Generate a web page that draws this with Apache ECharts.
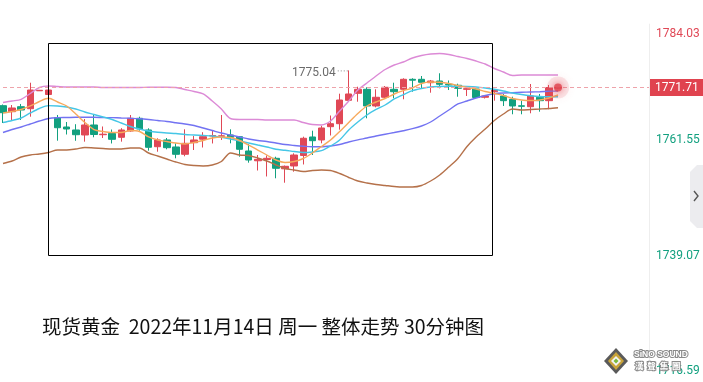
<!DOCTYPE html>
<html><head><meta charset="utf-8">
<script src="https://cdn.jsdelivr.net/npm/echarts@6/dist/echarts.min.js"></script>
<style>html,body{margin:0;padding:0;background:#fff}#c{width:703px;height:382px}</style>
</head><body><div id="c"></div>
<script>
// ---- data (30-minute bars) ----
const categories = ['1','2','3','4','5','6','7','8','9','10','11','12','13','14','15','16','17','18','19','20',
  '21','22','23','24','25','26','27','28','29','30','31','32','33','34','35','36','37','38','39','40',
  '41','42','43','44','45','46','47','48','49','50','51','52','53','54','55','56','57','58','59','60','61','62'];
const openV = [1768.19,1767.02,1767.99,1767.60,1771.08,1770.36,1765.89,1764.05,1763.47,1762.50,
  1764.44,1762.55,1762.79,1762.05,1763.27,1765.74,1763.47,1760.22,1761.53,1760.17,
  1758.75,1761.00,1761.68,1762.30,1762.24,1762.50,1762.17,1759.39,1757.49,1757.74,
  1757.97,1755.93,1756.48,1758.52,1762.11,1761.53,1764.11,1764.69,1769.23,1770.59,
  1771.37,1768.13,1769.82,1771.37,1771.37,1773.31,1773.31,1772.65,1772.98,1772.34,
  1772.15,1771.37,1771.43,1769.82,1770.90,1770.07,1769.43,1768.17,1767.99,1769.82,
  1769.16,1771.60];
const closeV = [1766.83,1767.74,1767.35,1771.23,1771.18,1771.23,1763.91,1763.66,1762.55,1764.44,
  1762.59,1762.65,1761.66,1763.47,1765.74,1763.66,1760.11,1761.53,1760.03,1758.75,
  1760.88,1761.53,1762.17,1762.40,1762.34,1762.05,1759.72,1757.64,1757.78,1757.97,
  1756.03,1756.42,1758.61,1761.86,1761.39,1763.86,1764.69,1769.29,1770.46,1771.37,
  1768.13,1769.82,1771.76,1770.90,1773.31,1773.14,1772.73,1772.98,1772.34,1772.21,
  1771.56,1771.49,1769.78,1770.07,1771.23,1769.16,1768.13,1768.07,1770.07,1769.16,
  1771.71,1771.71];
const lowV = [1764.83,1765.27,1765.41,1766.05,1771.04,1770.32,1761.39,1762.59,1761.37,1761.20,
  1762.05,1761.91,1760.85,1761.20,1763.14,1763.33,1759.45,1759.25,1759.72,1757.97,
  1758.36,1759.58,1760.07,1760.85,1761.53,1760.88,1758.28,1757.12,1755.60,1754.44,
  1754.09,1753.23,1755.37,1756.77,1758.61,1760.88,1762.40,1763.53,1768.96,1768.96,
  1765.74,1767.87,1769.62,1769.62,1769.43,1770.90,1771.56,1770.71,1771.56,1771.23,
  1769.93,1770.07,1769.68,1769.58,1769.16,1768.13,1766.52,1766.52,1766.71,1767.02,
  1767.49,1771.50];
const highV = [1768.42,1768.32,1768.52,1772.65,1771.23,1771.27,1766.38,1765.02,1764.59,1765.60,
  1766.38,1764.15,1763.56,1763.82,1766.38,1766.05,1763.80,1761.86,1761.91,1760.88,
  1763.60,1762.30,1763.04,1763.47,1766.38,1763.60,1762.30,1760.75,1758.61,1758.52,
  1758.28,1756.57,1758.94,1762.17,1763.33,1764.28,1766.28,1770.52,1775.04,1771.87,
  1771.76,1771.37,1772.01,1772.65,1773.51,1773.51,1773.95,1773.18,1774.48,1773.08,
  1772.46,1772.01,1771.53,1770.26,1771.37,1770.46,1769.93,1769.16,1772.40,1770.46,
  1772.21,1771.80];
const maOrange = [1766.77,1767.06,1767.45,1768.13,1769.00,1769.62,1768.90,1768.13,1766.57,1764.92,
  1763.56,1763.18,1762.98,1762.98,1763.37,1763.18,1762.11,1761.53,1761.23,1760.94,
  1760.75,1761.04,1761.43,1761.91,1762.11,1762.01,1761.43,1760.55,1759.58,1758.61,
  1757.64,1757.16,1757.35,1757.93,1759.00,1760.26,1761.53,1763.18,1764.92,1766.67,
  1768.13,1768.90,1769.58,1770.46,1771.10,1771.62,1772.50,1772.79,1772.73,1772.50,
  1772.11,1771.72,1771.43,1770.94,1770.55,1770.17,1769.58,1769.29,1769.19,1769.29,
  1769.68,1770.26];
const maCyan = [1764.92,1765.31,1765.80,1766.77,1767.64,1768.19,1768.13,1767.93,1767.54,1766.96,
  1766.48,1765.99,1765.51,1764.83,1764.15,1763.66,1763.27,1763.02,1762.88,1762.79,
  1762.59,1762.50,1762.40,1762.30,1762.05,1761.72,1761.33,1760.94,1760.55,1760.17,
  1759.72,1759.53,1759.29,1759.10,1759.20,1759.45,1760.36,1761.53,1763.47,1765.02,
  1766.38,1767.45,1768.32,1769.49,1770.32,1771.10,1771.53,1771.82,1771.91,1771.95,
  1771.95,1771.91,1771.82,1771.62,1771.37,1771.04,1770.65,1770.36,1770.13,1769.97,
  1769.93,1769.93];
const maBlue = [1762.98,1763.56,1764.05,1764.63,1765.21,1765.70,1765.86,1765.89,1765.93,1765.93,
  1765.93,1765.89,1765.86,1765.80,1765.74,1765.66,1765.51,1765.31,1765.12,1764.88,
  1764.63,1764.34,1763.86,1763.37,1762.88,1762.50,1762.11,1761.72,1761.43,1761.23,
  1760.94,1760.65,1760.46,1760.30,1760.20,1760.20,1760.36,1760.65,1761.14,1761.56,
  1761.91,1762.30,1762.65,1762.98,1763.33,1763.72,1764.24,1765.02,1766.19,1767.35,
  1768.52,1769.10,1769.68,1770.17,1770.50,1770.65,1770.71,1770.79,1770.85,1770.90,
  1770.98,1771.04];
const bollUpper = [1768.81,1769.10,1769.43,1770.55,1771.72,1772.01,1771.91,1771.82,1771.82,1771.82,
  1771.82,1771.72,1771.72,1771.72,1771.72,1771.72,1771.76,1771.76,1771.76,1771.72,
  1771.33,1770.94,1770.46,1769.10,1767.54,1765.70,1765.51,1765.51,1765.51,1765.41,
  1765.41,1765.41,1765.41,1764.92,1764.53,1764.44,1765.21,1767.16,1769.10,1771.23,
  1772.59,1773.95,1775.21,1776.09,1776.67,1777.45,1777.93,1778.22,1778.32,1778.13,
  1777.74,1777.35,1776.87,1776.28,1775.41,1774.73,1774.05,1774.15,1774.15,1774.15,
  1774.15,1774.15];
const bollLower = [1756.96,1757.45,1758.22,1758.61,1758.81,1759.10,1759.58,1759.58,1759.78,1760.07,
  1759.97,1759.87,1759.78,1759.78,1759.97,1759.97,1759.00,1758.42,1757.84,1757.25,
  1756.77,1756.57,1756.48,1756.67,1757.35,1759.00,1758.61,1758.52,1758.03,1757.45,
  1756.67,1755.99,1755.70,1755.41,1755.60,1755.70,1755.60,1755.02,1754.24,1753.56,
  1753.17,1752.88,1752.69,1752.50,1752.40,1752.40,1752.69,1753.56,1754.73,1756.28,
  1757.93,1760.26,1762.11,1763.66,1765.31,1766.57,1767.54,1767.35,1767.45,1767.54,
  1767.64,1767.80];
const yTicks = [1716.59, 1739.07, 1761.55, 1784.03];
const currentPrice = 1771.71;
const highMark = { index: 38, value: 1775.04 };
const titleText = '现货黄金  2022年11月14日 周一 整体走势 30分钟图';

// ---- build ----
const RED = '#e04856', GREEN = '#12a07f';
const totalSlots = 72;
const cats = categories.concat(new Array(totalSlots - categories.length).fill(''));
const kData = openV.map((o, i) => [o, closeV[i], lowV[i], highV[i]]);
const yMin = yTicks[0], yMax = yTicks[yTicks.length - 1];

const chart = echarts.init(document.getElementById('c'), null, { renderer: 'canvas' });
const lineS = (name, data, color) => ({
  name, type: 'line', data, symbol: 'none', smooth: 0.3, z: 3,
  lineStyle: { color, width: 1.4 }, silent: true
});
chart.setOption({
  animation: false,
  grid: { left: 3, right: 54, top: 24.1, bottom: 10.6 },
  xAxis: { type: 'category', data: cats, boundaryGap: false, show: false },
  yAxis: {
    type: 'value', position: 'right', min: yMin, max: yMax,
    axisLine: { show: true, lineStyle: { color: '#eeeeee' } },
    axisTick: { show: false }, splitLine: { show: false },
    axisLabel: {
      customValues: yTicks,
      formatter: v => (Math.abs(v - yMax) < 1e-6 ? '\n' : '') + v.toFixed(2),
      color: v => (v > currentPrice ? RED : GREEN),
      fontSize: 12, fontFamily: 'Roboto', lineHeight: 20, margin: 7
    }
  },
  series: [
    {
      type: 'candlestick', data: kData, barWidth: 7, clip: false, z: 2,
      itemStyle: { color: RED, color0: GREEN, borderColor: RED, borderColor0: GREEN, borderWidth: 1 },
      markLine: {
        symbol: 'none', silent: true, animation: false,
        data: [{ yAxis: currentPrice }],
        lineStyle: { color: '#eea3aa', type: [4, 3], width: 1 },
        label: {
          show: true, position: 'end', distance: 1, formatter: currentPrice.toFixed(2),
          backgroundColor: '#e0434f', color: '#fff', padding: [3, 5, 2, 5],
          fontSize: 12, fontFamily: 'Roboto'
        }
      }
    },
    lineS('BOLL UP', bollUpper, '#dc8ad6'),
    lineS('BOLL DN', bollLower, '#b5714a'),
    lineS('MA30', maBlue, '#7373f2'),
    lineS('MA10', maCyan, '#45c6e6'),
    lineS('MA5', maOrange, '#f7a95c'),
    { type: 'scatter', data: [[categories.length - 1, currentPrice]], symbolSize: 22, z: 5, silent: true,
      itemStyle: { color: 'rgba(230,80,95,0.18)', shadowBlur: 8, shadowColor: 'rgba(230,80,95,0.5)' } },
    { type: 'scatter', data: [[categories.length - 1, currentPrice]], symbolSize: 8, z: 6, silent: true,
      itemStyle: { color: '#e0434f', shadowBlur: 6, shadowColor: 'rgba(224,67,79,0.9)' } }
  ]
});

const hp = chart.convertToPixel({ gridIndex: 0 }, [highMark.index, highMark.value]);
chart.setOption({
  graphic: [
    { type: 'rect', shape: { x: 48.5, y: 43.5, width: 444, height: 212 }, silent: true, z: 10,
      style: { fill: 'none', stroke: '#000', lineWidth: 1 } },
    { type: 'text', x: hp[0] - 13, y: hp[1] + 3, silent: true, z: 10,
      style: { text: highMark.value.toFixed(2), fill: '#6b6b6b', font: '12px Roboto', textAlign: 'right', textVerticalAlign: 'middle' } },
    { type: 'line', shape: { x1: hp[0] - 11, y1: hp[1] + 0.5, x2: hp[0] - 1, y2: hp[1] + 0.5 }, silent: true, z: 10,
      style: { stroke: '#888', lineWidth: 1, lineDash: [1, 2] } },
    { type: 'text', x: 42, y: 327, silent: true, z: 10,
      style: { text: titleText, fill: '#111', font: '19.5px "Noto Sans CJK SC"', textVerticalAlign: 'middle' } },
    { type: 'polygon', shape: { points: [[690, 172], [697, 165], [703, 165], [703, 228], [697, 228], [690, 221]] },
      silent: true, style: { fill: '#ececef' } },
    { type: 'polyline', shape: { points: [[694, 191], [698, 196], [694, 201]] }, silent: true,
      style: { stroke: '#555', lineWidth: 1.4, fill: 'none' } },
    { type: 'polygon', shape: { points: [[616, 348], [628, 361], [616, 374], [604, 361]] }, silent: true, z: 20,
      style: { fill: '#5a5a5a' } },
    { type: 'polygon', shape: { points: [[616, 352], [624, 361], [616, 370], [608, 361]] }, silent: true, z: 21,
      style: { fill: '#c9a43a' } },
    { type: 'polygon', shape: { points: [[616, 356], [621, 361], [616, 366], [611, 361]] }, silent: true, z: 22,
      style: { fill: '#f4f4f4' } },
    { type: 'polygon', shape: { points: [[616, 358.5], [618.5, 361], [616, 363.5], [613.5, 361]] }, silent: true, z: 23,
      style: { fill: '#7dbb3c' } },
    { type: 'text', x: 634, y: 355, silent: true, z: 20,
      style: { text: 'SiNO SOUND', fill: '#ffffff', stroke: '#8a8a8a', lineWidth: 2, font: 'bold 8.5px "Liberation Sans"', textVerticalAlign: 'middle' } },
    { type: 'text', x: 635, y: 366, silent: true, z: 20,
      style: { text: '漢  聲  集  團', fill: '#ffffff', stroke: '#8a8a8a', lineWidth: 2, font: 'bold 8.5px "Noto Sans CJK TC"', textVerticalAlign: 'middle' } }
  ]
});
</script></body></html>
